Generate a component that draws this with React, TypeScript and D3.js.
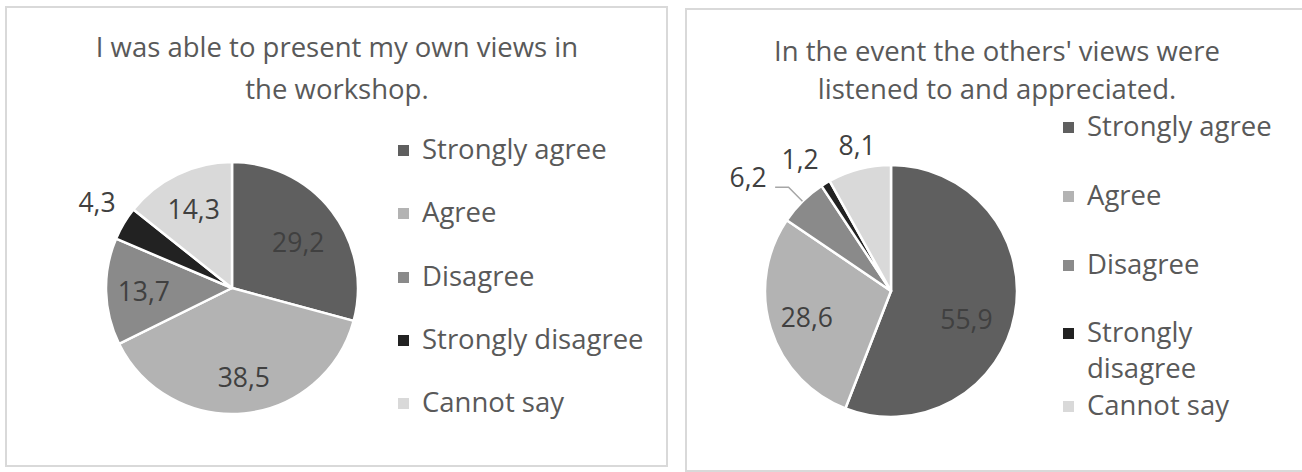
import React from "react";
import * as d3 from "d3";

// ---------- data ----------
const categories = ["Strongly agree", "Agree", "Disagree", "Strongly disagree", "Cannot say"];
const sliceColors = ["#5f5f5f", "#b3b3b3", "#8a8a8a", "#222222", "#d9d9d9"];

const leftValues = [29.2, 38.5, 13.7, 4.3, 14.3];
const rightValues = [55.9, 28.6, 6.2, 1.2, 8.1];

const leftTitle = ["I was able to present my own views in", "the workshop."];
const rightTitle = ["In the event the others' views were", "listened to and appreciated."];

const leftLegendLines = [["Strongly agree"], ["Agree"], ["Disagree"], ["Strongly disagree"], ["Cannot say"]];
const rightLegendLines = [["Strongly agree"], ["Agree"], ["Disagree"], ["Strongly", "disagree"], ["Cannot say"]];

// ---------- label placement (layout config) ----------
type LabelCfg = { rf: number; shift: number; leader?: boolean };
const leftLabelCfg: LabelCfg[] = [
  { rf: 0.64, shift: 2.7 },
  { rf: 0.71, shift: -2 },
  { rf: 0.7, shift: 0 },
  { rf: 1.27, shift: 1.7 },
  { rf: 0.7, shift: 0 },
];
const rightLabelCfg: LabelCfg[] = [
  { rf: 0.64, shift: 10 },
  { rf: 0.7, shift: 0 },
  { rf: 1.45, shift: -6.8, leader: true },
  { rf: 1.27, shift: -3.3 },
  { rf: 1.19, shift: 1.5 },
];

const FONT = "'Open Sans', 'Noto Sans', sans-serif";
const fmt = (v: number) => v.toFixed(1).replace(".", ",");

type PanelProps = {
  frame: { x: number; y: number; w: number; h: number };
  title: string[];
  titleX: number;
  titleY: number[];
  values: number[];
  cx: number;
  cy: number;
  r: number;
  labelCfg: LabelCfg[];
  legendLines: string[][];
  legendX: number;
  legendY: number[];
  lineGap: number;
};

function Panel(p: PanelProps) {
  const pie = d3
    .pie<number>()
    .sort(null)
    .value((d) => d)
    .startAngle(0)
    .endAngle(2 * Math.PI);
  const arcs = pie(p.values);
  const arcGen = d3.arc<d3.PieArcDatum<number>>().innerRadius(0).outerRadius(p.r);
  const pt = (angle: number, radius: number) =>
    d3.arc().innerRadius(radius).outerRadius(radius).centroid({
      startAngle: angle,
      endAngle: angle,
      innerRadius: radius,
      outerRadius: radius,
    } as any);

  return (
    <g>
      <rect
        x={p.frame.x}
        y={p.frame.y}
        width={p.frame.w}
        height={p.frame.h}
        fill="#ffffff"
        stroke="#d9d9d9"
        strokeWidth={2}
      />
      {p.title.map((t, i) => (
        <text
          key={i}
          x={p.titleX}
          y={p.titleY[i]}
          textAnchor="middle"
          fontFamily={FONT}
          fontSize={27.5}
          fill="#595959"
        >
          {t}
        </text>
      ))}
      <g transform={`translate(${p.cx},${p.cy})`}>
        {arcs.map((a, i) => (
          <path key={i} d={arcGen(a) || ""} fill={sliceColors[i]} stroke="#ffffff" strokeWidth={2.5} strokeLinejoin="round" />
        ))}
        {arcs.map((a, i) => {
          const cfg = p.labelCfg[i];
          const mid = (a.startAngle + a.endAngle) / 2;
          const ang = mid + (cfg.shift * Math.PI) / 180;
          const [lx, ly] = pt(ang, p.r * cfg.rf);
          let leader = null;
          if (cfg.leader) {
            const [ex, ey] = pt(mid, p.r);
            const [bx, by] = pt(mid, p.r * 1.157);
            const endX = lx + 27;
            leader = (
              <polyline
                points={`${ex},${ey} ${bx},${by} ${endX},${by}`}
                fill="none"
                stroke="#a6a6a6"
                strokeWidth={1.5}
              />
            );
          }
          return (
            <g key={"l" + i}>
              {leader}
              <text
                x={lx}
                y={ly}
                textAnchor="middle"
                dominantBaseline="central"
                fontFamily={FONT}
                fontSize={26.5}
                fill="#404040"
              >
                {fmt(p.values[i])}
              </text>
            </g>
          );
        })}
      </g>
      {categories.map((c, i) => (
        <g key={c}>
          <rect x={p.legendX} y={p.legendY[i] - 14} width={11} height={11} fill={sliceColors[i]} />
          {p.legendLines[i].map((line, j) => (
            <text
              key={j}
              x={p.legendX + 24}
              y={p.legendY[i] + j * p.lineGap}
              fontFamily={FONT}
              fontSize={27.5}
              fill="#595959"
            >
              {line}
            </text>
          ))}
        </g>
      ))}
    </g>
  );
}

export default function App() {
  return (
    <svg
      width={1302}
      height={472}
      viewBox="0 0 1302 472"
      style={{ position: "absolute", left: 0, top: 0, background: "#ffffff" }}
    >
      <rect x={0} y={0} width={1302} height={472} fill="#ffffff" />
      <Panel
        frame={{ x: 6, y: 7, w: 661, h: 459 }}
        title={leftTitle}
        titleX={337}
        titleY={[57, 99]}
        values={leftValues}
        cx={232}
        cy={288}
        r={126}
        labelCfg={leftLabelCfg}
        legendLines={leftLegendLines}
        legendX={398}
        legendY={[159, 222, 286, 349, 412]}
        lineGap={38}
      />
      <Panel
        frame={{ x: 686, y: 9, w: 625, h: 462 }}
        title={rightTitle}
        titleX={997}
        titleY={[61, 99]}
        values={rightValues}
        cx={891}
        cy={291}
        r={126}
        labelCfg={rightLabelCfg}
        legendLines={rightLegendLines}
        legendX={1063}
        legendY={[136, 205, 274, 342, 415]}
        lineGap={36}
      />
    </svg>
  );
}
